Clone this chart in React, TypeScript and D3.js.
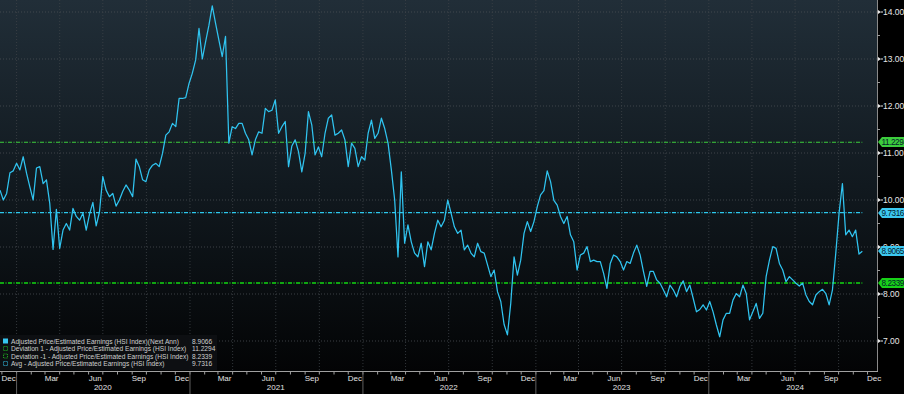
import React, { useEffect, useRef } from "react";
import * as d3 from "d3";

// weekly P/E readings, split by year-ish chunks
const startDate = new Date(2019, 10, 27);
const pe2020 = [10.21, 10.0, 10.14, 10.58, 10.62, 10.78, 10.64, 10.92, 10.57, 10.28, 10.0, 10.68, 10.71, 10.35, 10.43, 9.93, 8.95, 9.8, 8.97, 9.36, 9.5, 9.36, 9.82, 9.65, 9.57, 9.72, 9.36, 9.7, 9.95, 9.45, 9.75, 10.5, 10.21, 10.07, 10.14, 9.87, 10.0, 10.18, 10.32, 10.21, 10.07, 10.87, 10.71, 10.43, 10.39, 10.64, 10.74, 10.78, 10.71, 10.99, 11.38, 11.45];
const pe2021 = [11.63, 11.56, 12.16, 12.16, 12.18, 12.48, 12.7, 12.98, 13.65, 13.0, 13.37, 13.72, 14.13, 13.76, 13.4, 13.05, 13.48, 11.21, 11.56, 11.52, 11.63, 11.63, 11.42, 11.28, 10.96, 11.28, 11.45, 11.42, 11.95, 11.88, 11.91, 12.13, 11.42, 11.56, 11.67, 10.71, 11.15, 11.28, 11.03, 10.6, 10.99, 11.88, 11.6, 10.96, 11.13, 10.92, 11.42, 11.74, 11.81, 11.38, 11.42, 11.49];
const pe2022 = [11.28, 10.71, 11.21, 11.1, 10.71, 10.92, 10.85, 11.42, 11.7, 11.31, 11.42, 11.74, 11.52, 11.21, 10.64, 10.0, 8.79, 10.6, 9.08, 9.47, 9.11, 8.87, 8.79, 9.08, 8.58, 9.11, 8.94, 9.29, 9.57, 9.43, 9.57, 10.0, 9.72, 9.43, 9.29, 9.36, 8.94, 9.04, 8.87, 8.79, 9.08, 8.9, 8.87, 8.62, 8.37, 8.51, 8.05, 7.84, 7.35, 7.13, 7.8, 8.79];
const pe2023 = [8.4, 8.72, 9.29, 9.54, 9.33, 9.54, 9.86, 10.11, 10.2, 10.62, 10.39, 9.99, 9.89, 9.65, 9.5, 9.65, 9.26, 9.11, 8.51, 8.83, 8.87, 9.01, 8.69, 8.72, 8.69, 8.69, 8.44, 8.12, 8.65, 8.83, 8.79, 8.69, 8.51, 8.69, 8.65, 8.87, 9.04, 8.83, 8.48, 8.16, 8.48, 8.48, 8.3, 8.23, 8.09, 7.94, 8.19, 8.09, 7.94, 8.16, 8.28, 8.05];
const pe2024 = [8.19, 7.91, 7.62, 7.67, 7.77, 7.66, 7.84, 7.62, 7.34, 7.09, 7.45, 7.59, 7.59, 7.87, 8.01, 7.94, 8.19, 8.01, 7.45, 7.62, 7.8, 7.48, 7.59, 8.37, 8.72, 9.01, 8.97, 8.65, 8.51, 8.26, 8.37, 8.3, 8.23, 8.17, 8.23, 7.98, 7.84, 7.77, 7.98, 8.05, 8.1, 8.01, 7.77, 8.09, 8.87, 9.72, 10.35, 9.26, 9.36, 9.22, 9.36, 8.85, 8.91];

const refNames = [
  "Adjusted Price/Estimated Earnings (HSI Index)(Next Ann)",
  "Deviation 1 - Adjusted Price/Estimated Earnings (HSI Index)",
  "Deviation  -1 - Adjusted Price/Estimated Earnings (HSI Index)",
  "Avg - Adjusted Price/Estimated Earnings (HSI Index)",
];
const legendValues = ["8.9066", "11.2294", "8.2339", "9.7316"];
const refValues = [11.2294, 8.2339, 9.7316];
const refColors = ["#3ccd3c", "#12d812", "#2cc8ec"];
const lastLabel = "8.9065";
const yTicks = [7, 8, 9, 10, 11, 12, 13, 14];
const quarterMonths = [11, 2, 5, 8]; // Dec, Mar, Jun, Sep
const years = [2020, 2021, 2022, 2023, 2024];

const W = 904, H = 394;
const plotR = 877, axisY = 371.5;
const FONT = "Liberation Sans, Arial, sans-serif";

export default function App() {
  const ref = useRef<SVGSVGElement>(null);

  useEffect(() => {
    const svg = d3.select(ref.current);
    svg.selectAll("*").remove();

    const values = [...pe2020, ...pe2021, ...pe2022, ...pe2023, ...pe2024];
    const data = values.map((v, i) => ({ date: d3.timeWeek.offset(startDate, i), v }));

    const x = d3.scaleTime()
      .domain([new Date(2019, 10, 27), new Date(2024, 11, 21)])
      .range([0, plotR]);
    const y = d3.scaleLinear().domain([7, 14]).range([341, 12]);

    svg.append("rect").attr("width", W).attr("height", H).attr("fill", "#000");

    const defs = svg.append("defs");
    const grad = defs.append("linearGradient").attr("id", "bg").attr("x1", 0).attr("x2", 0).attr("y1", 0).attr("y2", 1);
    grad.append("stop").attr("offset", "0%").attr("stop-color", "#212e38");
    grad.append("stop").attr("offset", "50%").attr("stop-color", "#11191f");
    grad.append("stop").attr("offset", "100%").attr("stop-color", "#030405");
    defs.append("clipPath").attr("id", "plotclip").append("rect").attr("width", plotR).attr("height", axisY);

    svg.append("rect").attr("width", plotR).attr("height", axisY).attr("fill", "url(#bg)");

    const g = svg.append("g").attr("clip-path", "url(#plotclip)");

    // grid
    g.selectAll(".hg").data(yTicks).join("line")
      .attr("x1", 0).attr("x2", plotR)
      .attr("y1", d => y(d)).attr("y2", d => y(d))
      .attr("stroke", "#4a4f54").attr("stroke-width", 0.8).attr("stroke-dasharray", "1,2");
    const qStarts = d3.timeMonth.range(new Date(2019, 9, 1), new Date(2025, 0, 2)).filter(d => d.getMonth() % 3 === 0);
    g.selectAll(".vg").data(qStarts).join("line")
      .attr("x1", d => x(d)).attr("x2", d => x(d))
      .attr("y1", 0).attr("y2", axisY)
      .attr("stroke", "#3e4348").attr("stroke-width", 0.8).attr("stroke-dasharray", "1,2");

    const lastDate = data[data.length - 1].date;

    // reference lines
    refValues.forEach((v, i) => {
      g.append("line")
        .attr("x1", 0).attr("x2", x(lastDate))
        .attr("y1", y(v)).attr("y2", y(v))
        .attr("stroke", refColors[i]).attr("stroke-width", i === 1 ? 1.5 : 1.1)
        .attr("stroke-dasharray", "4,1.5,1,1.5");
    });

    // series
    g.append("path").datum(data)
      .attr("fill", "none").attr("stroke", "#30c4f0").attr("stroke-width", 1.25)
      .attr("stroke-linejoin", "round")
      .attr("d", d3.line<{ date: Date; v: number }>().x(d => x(d.date)).y(d => y(d.v)));

    // right axis
    svg.append("line").attr("x1", plotR + 0.5).attr("x2", plotR + 0.5).attr("y1", 0).attr("y2", axisY)
      .attr("stroke", "#8a8a8a").attr("stroke-width", 1);
    const minor = d3.range(7.5, 14.5, 1);
    svg.selectAll(".mt").data(minor).join("line")
      .attr("x1", plotR).attr("x2", plotR + 3)
      .attr("y1", d => y(d)).attr("y2", d => y(d))
      .attr("stroke", "#9a9a9a").attr("stroke-width", 1);
    svg.selectAll(".mj").data(yTicks).join("path")
      .attr("d", d => `M${plotR + 1},${y(d) - 2}L${plotR + 4},${y(d)}L${plotR + 1},${y(d) + 2}Z M${plotR + 4},${y(d) - 0.5}h2v1h-2Z`)
      .attr("fill", "#e8e8e8");
    svg.selectAll(".yl").data(yTicks).join("text")
      .attr("x", plotR + 6).attr("y", d => y(d) + 3)
      .attr("fill", "#e6e6e6").attr("font-family", FONT)
      .attr("font-size", 8.5)
      .text(d => d3.format(".2f")(d));

    // badges
    const badges = [
      { v: refValues[0], label: legendValues[1], color: refColors[0] },
      { v: refValues[2], label: legendValues[3], color: "#3cc8f0" },
      { v: data[data.length - 1].v, label: lastLabel, color: "#3cc8f0" },
      { v: refValues[1], label: legendValues[2], color: "#18d018" },
    ];
    badges.forEach(b => {
      const yy = Math.round(y(b.v));
      svg.append("path")
        .attr("d", `M${plotR + 1},${yy}L${plotR + 5},${yy - 5}H${W + 5}V${yy + 5}H${plotR + 5}Z`)
        .attr("fill", b.color);
      svg.append("text").attr("x", plotR + 4.5).attr("y", yy + 3.2)
        .attr("fill", "#04202c").attr("font-family", FONT)
        .attr("font-size", 8.2).attr("letter-spacing", -0.45).text(b.label);
    });

    // bottom axis
    svg.append("line").attr("x1", 0).attr("x2", plotR + 1).attr("y1", axisY).attr("y2", axisY)
      .attr("stroke", "#a0a0a0").attr("stroke-width", 1.2);
    const months = d3.timeMonth.range(new Date(2019, 11, 1), new Date(2025, 0, 1));
    svg.selectAll(".xt").data(months).join("line")
      .attr("x1", d => x(d)).attr("x2", d => x(d))
      .attr("y1", axisY).attr("y2", axisY + 3)
      .attr("stroke", "#a0a0a0").attr("stroke-width", 1);
    const labelMonths = months.filter(d => quarterMonths.includes(d.getMonth()));
    svg.selectAll(".xl").data(labelMonths).join("text")
      .attr("x", d => x(new Date(d.getFullYear(), d.getMonth(), 15)))
      .attr("y", 381)
      .attr("text-anchor", "middle")
      .attr("fill", "#e2e2e2").attr("font-family", FONT)
      .attr("font-size", 8)
      .text(d => d3.timeFormat("%b")(d));
    svg.selectAll(".ys").data(years).join("line")
      .attr("x1", d => x(new Date(d, 0, 1))).attr("x2", d => x(new Date(d, 0, 1)))
      .attr("y1", axisY + 1).attr("y2", H)
      .attr("stroke", "#606060").attr("stroke-width", 1);
    svg.selectAll(".yrl").data(years).join("text")
      .attr("x", d => x(new Date(d, 6, 1)))
      .attr("y", 390)
      .attr("text-anchor", "middle")
      .attr("fill", "#e2e2e2").attr("font-family", FONT)
      .attr("font-size", 8)
      .text(d => String(d));

    // legend
    const lg = svg.append("g").attr("transform", "translate(0,335)");
    lg.append("rect").attr("width", 217).attr("height", 35).attr("fill", "#0e1013").attr("opacity", 0.95);
    const markColors = ["#36c6f0", "#22c022", "#22c022", "#36c6f0"];
    refNames.forEach((name, i) => {
      const ry = 6.5 + i * 7.5;
      if (i === 0) {
        lg.append("rect").attr("x", 3).attr("y", ry - 3).attr("width", 5).attr("height", 5).attr("fill", markColors[i]);
      } else {
        lg.append("rect").attr("x", 3.5).attr("y", ry - 2.5).attr("width", 4).attr("height", 4)
          .attr("fill", "none").attr("stroke", markColors[i]).attr("stroke-width", 0.8)
          .attr("stroke-dasharray", "1.2,0.8");
      }
      lg.append("text").attr("x", 11).attr("y", ry + 2.3)
        .attr("fill", "#cfcfcf").attr("font-family", FONT)
        .attr("font-size", 6.6).text(name);
      lg.append("text").attr("x", 192).attr("y", ry + 2.3)
        .attr("fill", "#cfcfcf").attr("font-family", FONT)
        .attr("font-size", 6.6).text(legendValues[i]);
    });
  }, []);

  return (
    <div className="Graph">
      <svg ref={ref} width={W} height={H} style={{ position: "absolute", left: 0, top: 0, display: "block" }} />
    </div>
  );
}
